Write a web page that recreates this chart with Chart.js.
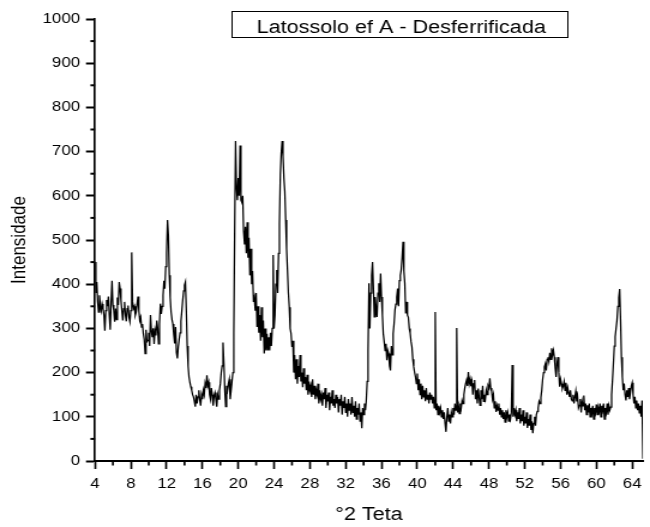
<!DOCTYPE html>
<html><head><meta charset="utf-8">
<script src="https://cdn.jsdelivr.net/npm/chart.js@4"></script>
<style>html,body{margin:0;padding:0;background:#fff;} canvas{display:block;}</style>
</head><body>
<canvas id="c" width="542" height="527" style="width:650px;height:527px"></canvas>
<script>
const scanStart = 4.0;
const scanStep = 0.1;
const intensity = [
450,380,405,360,337,375,352,340,355,345,
330,295,340,364,350,372,330,297,360,408,
353,340,315,345,320,370,353,405,390,364,
340,318,345,360,330,316,345,352,325,315,
340,472,360,345,350,330,337,355,372,340,
318,325,303,310,288,275,243,297,270,273,
290,260,330,295,280,300,265,295,284,318,
300,265,310,356,333,350,375,408,390,440,
470,545,510,420,370,337,320,310,285,266,
303,245,232,258,275,290,316,340,364,385,
398,405,340,260,215,190,178,168,160,150,
145,135,123,150,130,145,160,138,125,150,
140,160,150,175,165,194,170,178,150,140,
165,150,125,148,155,140,123,150,140,160,
175,200,215,268,220,160,123,170,160,175,
185,140,160,180,200,290,520,724,620,590,
640,600,714,590,585,600,520,490,530,470,
540,460,505,420,480,400,430,360,370,340,
380,303,350,290,330,272,348,280,318,243,
300,250,288,250,280,250,290,260,300,466,
300,330,400,432,380,470,537,650,696,724,
690,640,610,545,480,432,380,348,300,288,
258,272,200,240,185,230,175,215,190,240,
180,200,167,210,175,190,160,195,150,180,
160,170,145,185,150,170,140,160,150,175,
130,160,140,150,125,155,140,165,120,150,
135,155,115,145,130,160,125,140,120,150,
130,145,110,140,125,150,105,135,120,145,
110,130,100,140,115,130,105,145,110,125,
100,135,95,120,105,130,90,110,74,120,
105,130,115,137,180,250,402,300,380,420,
450,390,326,371,345,326,380,402,360,424,
371,330,288,270,250,265,228,250,243,215,
205,260,240,288,310,341,355,371,390,350,
408,420,432,460,496,430,402,334,360,330,
325,300,290,270,258,230,213,200,190,175,
198,160,185,150,175,140,170,145,160,135,
165,140,150,130,155,140,150,130,145,120,
337,115,130,105,125,110,120,100,115,95,
110,85,66,100,120,90,105,85,110,100,
120,105,130,115,301,110,125,107,130,120,
137,130,150,165,175,183,170,201,175,185,
169,180,150,175,183,140,160,130,164,145,
126,160,140,170,135,150,140,160,150,170,
165,187,165,158,140,150,120,135,111,125,
115,130,105,120,100,115,95,110,88,115,
100,110,90,105,95,110,217,100,120,105,
115,90,110,95,120,85,105,90,115,80,
100,85,110,75,95,80,105,70,90,63,
85,100,80,105,112,120,135,130,144,160,
185,200,213,220,205,230,235,225,245,230,
255,240,250,235,210,190,220,235,200,168,
185,175,164,170,180,160,177,150,165,154,
145,160,140,136,150,130,145,158,135,145,
120,126,140,110,135,125,148,115,130,105,
126,110,130,100,120,108,125,95,120,110,
128,105,120,112,130,100,125,115,130,95,
120,110,130,105,125,115,122,150,183,220,
260,281,300,318,350,370,389,320,235,190,
160,175,150,137,160,145,165,140,155,170,
177,150,130,145,120,137,115,130,109,125,
100,137,5
];
const twoTheta = intensity.map((_, i) => Math.round((scanStart + i * scanStep) * 10) / 10);

const xMinorTicks = [6,10,14,18,22,26,30,34,38,42,46,50,54,58,62];
const yMinorTicks = [50,150,250,350,450,550,650,750,850,950];
const chartTitle = 'Latossolo ef A - Desferrificada';
const xTitle = '°2 Teta';
const yTitle = 'Intensidade';
const FONT = '"Liberation Sans", Arial, Helvetica, sans-serif';

const decor = {
  id: 'decor',
  afterDraw(chart) {
    const ctx = chart.ctx;
    const xs = chart.scales.x, ys = chart.scales.y;
    const area = chart.chartArea;
    ctx.save();
    ctx.strokeStyle = '#000';
    ctx.lineWidth = 1.67;
    xMinorTicks.forEach(v => {
      const px = xs.getPixelForValue(v);
      ctx.beginPath(); ctx.moveTo(px, area.bottom); ctx.lineTo(px, area.bottom + 4.5); ctx.stroke();
    });
    ctx.lineWidth = 2;
    yMinorTicks.forEach(v => {
      const py = ys.getPixelForValue(v);
      ctx.beginPath(); ctx.moveTo(area.left, py); ctx.lineTo(area.left - 3.8, py); ctx.stroke();
    });
    ctx.lineWidth = 1;
    ctx.strokeRect(193.5, 11.5, 280, 26);
    ctx.fillStyle = '#000';
    ctx.font = '18px ' + FONT;
    ctx.textAlign = 'center';
    ctx.textBaseline = 'alphabetic';
    ctx.fillText(chartTitle, 334.6, 33.3);
    ctx.restore();
  }
};

new Chart(document.getElementById('c'), {
  type: 'line',
  data: {
    datasets: [{
      data: twoTheta.map((x, i) => ({ x: x, y: intensity[i] })),
      borderColor: '#000',
      borderWidth: 1.25,
      pointRadius: 0,
      tension: 0,
      fill: false
    }]
  },
  options: {
    responsive: false,
    animation: false,
    layout: { padding: { top: 19, right: 3.5, left: 0, bottom: 0 } },
    plugins: { legend: { display: false }, tooltip: { enabled: false } },
    scales: {
      x: {
        type: 'linear', min: 4, max: 65.2,
        afterFit: s => { s.height = 66; },
        border: { display: true, color: '#000', width: 2 },
        grid: { display: true, drawOnChartArea: false, drawTicks: true, tickLength: 8, tickColor: '#000', tickWidth: 1.67 },
        ticks: { stepSize: 4, includeBounds: false, autoSkip: false, maxRotation: 0, color: '#000', font: { family: FONT, size: 14 }, padding: 7, callback: v => String(v) },
        title: { display: true, text: xTitle, color: '#000', font: { family: FONT, size: 18 }, padding: { top: 0, bottom: 1 } }
      },
      y: {
        min: 0, max: 1000,
        afterFit: s => { s.width = 79.2; },
        border: { display: true, color: '#000', width: 1.67 },
        grid: { display: true, drawOnChartArea: false, drawTicks: true, tickLength: 7.5, tickColor: '#000', tickWidth: 2 },
        ticks: { stepSize: 100, color: '#000', font: { family: FONT, size: 14 }, padding: 5, callback: v => String(v) },
        title: { display: true, text: yTitle, color: '#000', font: { family: FONT, size: 17 }, padding: { top: 6, bottom: 0 } }
      }
    }
  },
  plugins: [decor]
});
</script>
</body></html>
